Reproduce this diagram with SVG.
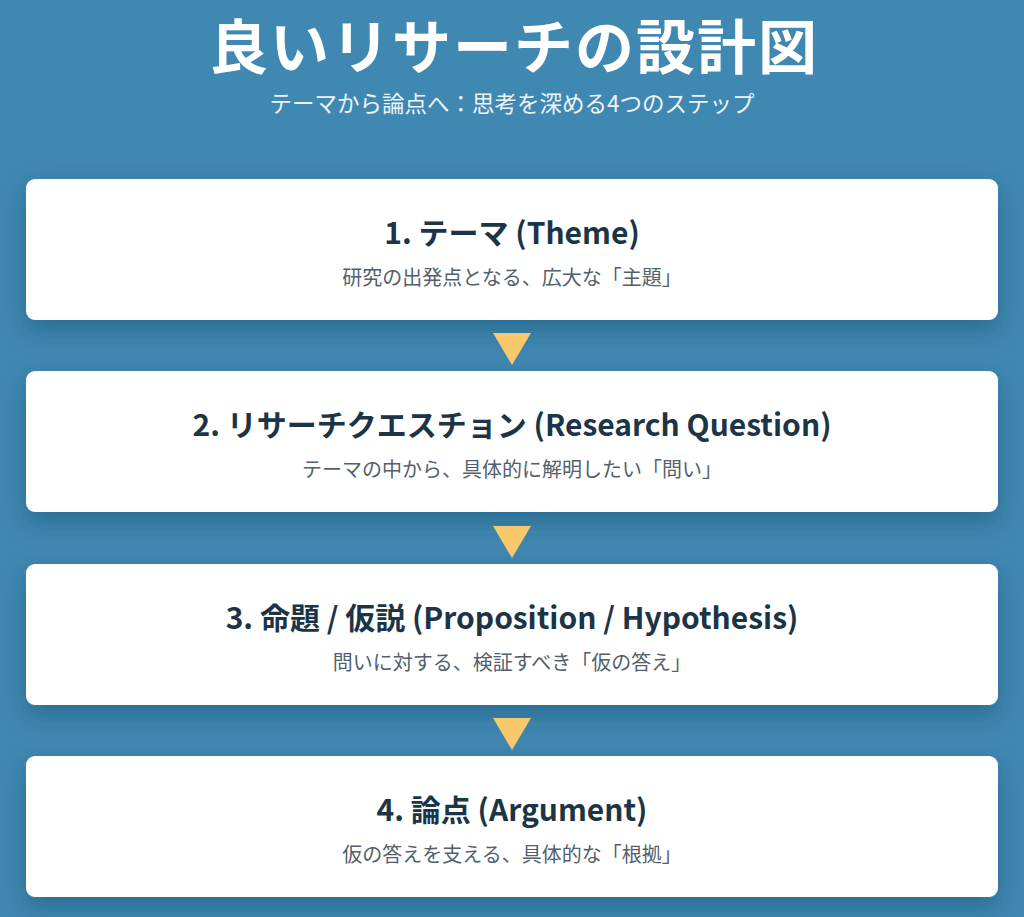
<svg xmlns="http://www.w3.org/2000/svg" width="1024" height="917" viewBox="0 0 1024 917">
<defs>
<filter id="sh" x="-10%" y="-30%" width="120%" height="180%">
<feDropShadow dx="0" dy="10" stdDeviation="12" flood-color="#0d3550" flood-opacity="0.35"/>
</filter>
<style>
.card{fill:#ffffff;filter:url(#sh)}
.t{font-family:"Noto Sans CJK JP","Noto Sans",sans-serif;font-weight:700;font-size:30px;fill:#1c3546;text-anchor:middle}
.d{font-family:"Noto Sans CJK JP","Noto Sans",sans-serif;font-size:20px;fill:#52606b;text-anchor:middle}
.arr{fill:#f7c96a}
</style>
</defs>
<rect width="1024" height="917" fill="#3f88b1"/>
<text x="514" y="69" font-family="'Noto Sans CJK JP','Noto Sans',sans-serif" font-weight="700" font-size="59" letter-spacing="2" fill="#ffffff" text-anchor="middle">良いリサーチの設計図</text>
<text x="512" y="112" font-family="'Noto Sans CJK JP','Noto Sans',sans-serif" font-size="22.5" fill="#eef4f8" text-anchor="middle">テーマから論点へ：思考を深める4つのステップ</text>
<g id="node1">
<rect class="card" x="26" y="179" width="972" height="141" rx="9"/>
<text class="t" x="512" y="244">1. テーマ (Theme)</text>
<text class="d" x="512" y="285">研究の出発点となる、広大な「主題」</text>
</g>
<g id="node2">
<rect class="card" x="26" y="371" width="972" height="141" rx="9"/>
<text class="t" x="512" y="436">2. リサーチクエスチョン (Research Question)</text>
<text class="d" x="512" y="477">テーマの中から、具体的に解明したい「問い」</text>
</g>
<g id="node3">
<rect class="card" x="26" y="564" width="972" height="141" rx="9"/>
<text class="t" x="512" y="629">3. 命題 / 仮説 (Proposition / Hypothesis)</text>
<text class="d" x="512" y="670">問いに対する、検証すべき「仮の答え」</text>
</g>
<g id="node4">
<rect class="card" x="26" y="756" width="972" height="141" rx="9"/>
<text class="t" x="512" y="821">4. 論点 (Argument)</text>
<text class="d" x="512" y="862">仮の答えを支える、具体的な「根拠」</text>
</g>
<g id="connectors">
<polygon class="arr" points="493,333 531,333 512,365"/>
<polygon class="arr" points="493,526 531,526 512,558"/>
<polygon class="arr" points="493,718 531,718 512,750"/>
</g>
</svg>
